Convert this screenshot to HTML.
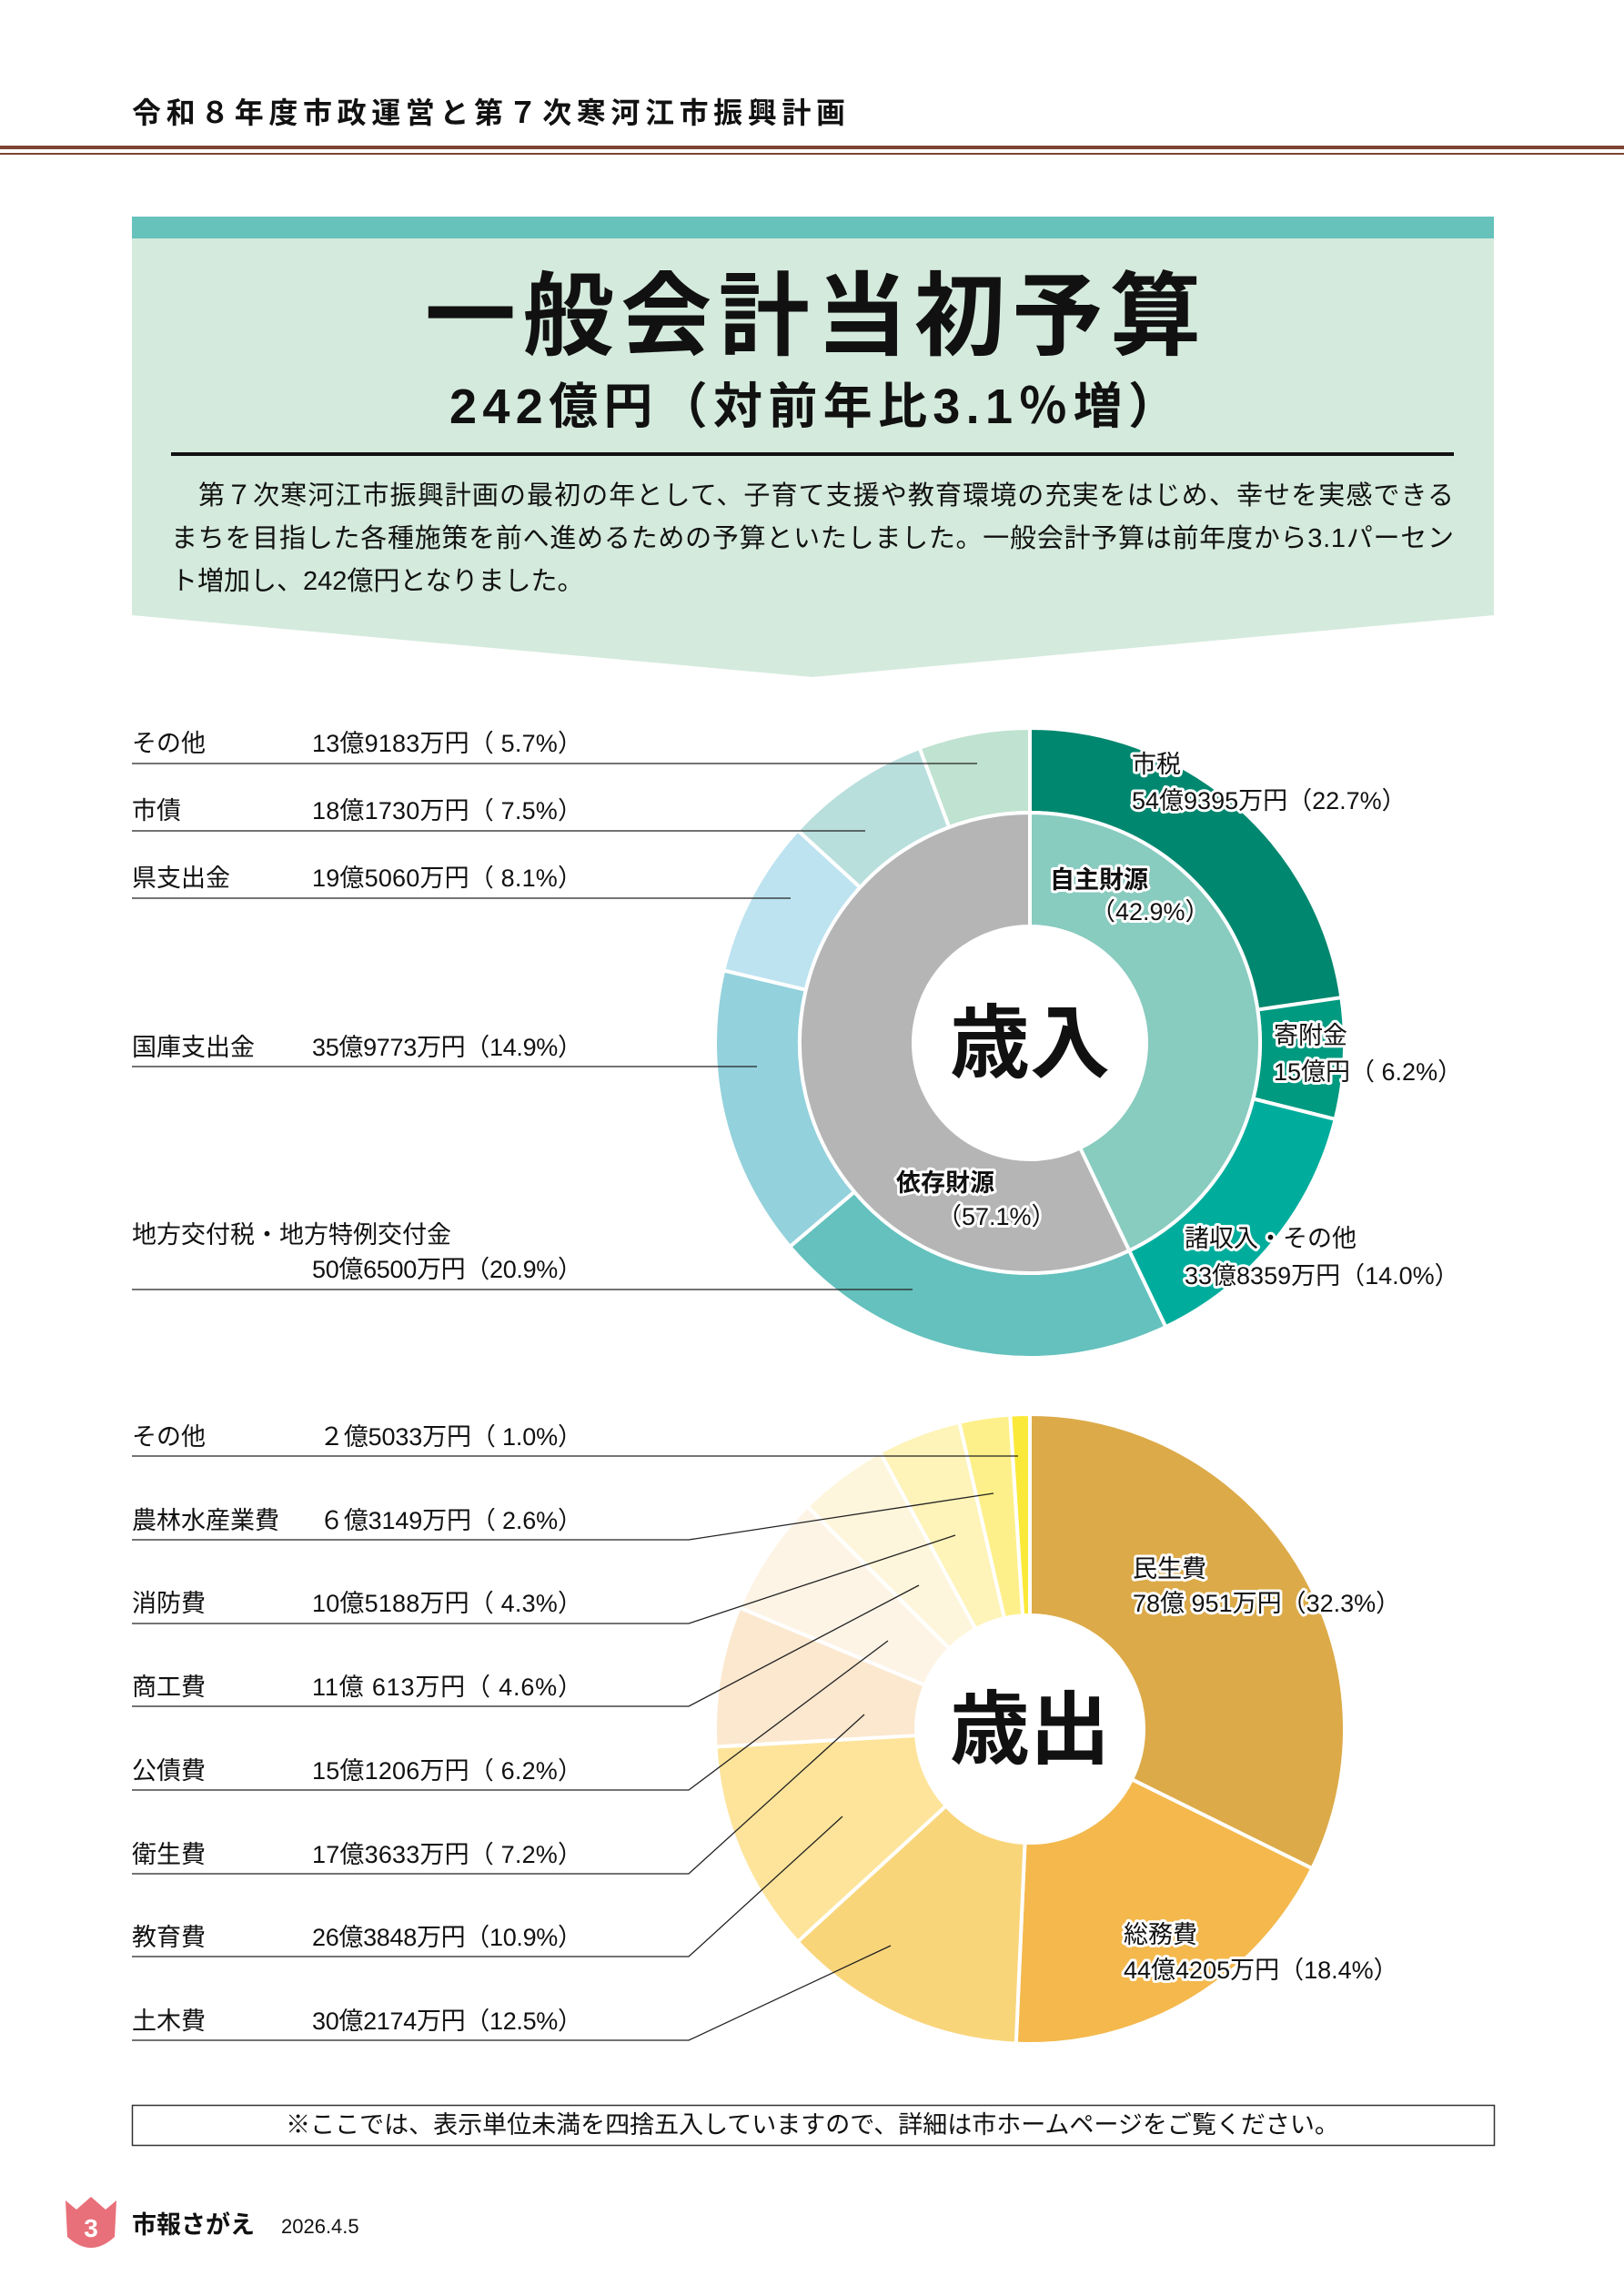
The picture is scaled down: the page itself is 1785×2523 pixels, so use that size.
<!DOCTYPE html>
<html><head><meta charset="utf-8"><style>
html,body{margin:0;padding:0;background:#fff}
svg{display:block}
text{font-family:"Liberation Sans","Noto Sans CJK JP",sans-serif;fill:#111}
.b{font-weight:bold}
.g{paint-order:stroke;stroke:#fff;stroke-width:6px;stroke-linejoin:round}
</style></head><body>
<svg id="s" width="1785" height="2523" viewBox="0 0 1785 2523" xmlns="http://www.w3.org/2000/svg">
<text x="145" y="135" font-size="32" class="b" textLength="784">令和８年度市政運営と第７次寒河江市振興計画</text>
<rect x="0" y="160" width="1785" height="4" fill="#7e4535"/>
<rect x="0" y="168" width="1785" height="2" fill="#7e4535"/>
<rect x="145" y="238" width="1497" height="24" fill="#66c2bb"/>
<polygon points="145,262 1642,262 1642,676 893,744 145,676" fill="#d4eadd"/>
<text x="467" y="382" font-size="100" class="b" textLength="853">一般会計当初予算</text>
<text x="494" y="465" font-size="54" class="b" textLength="800">242億円（対前年比3.1％増）</text>
<rect x="188" y="497" width="1410" height="4" fill="#111"/>
<text x="218" y="554" font-size="29" textLength="1380">第７次寒河江市振興計画の最初の年として、子育て支援や教育環境の充実をはじめ、幸せを実感できる</text>
<text x="188" y="601" font-size="29" textLength="1410">まちを目指した各種施策を前へ進めるための予算といたしました。一般会計予算は前年度から3.1パーセン</text>
<text x="188" y="648" font-size="29">ト増加し、242億円となりました。</text>
<g id="charts"></g>
<g id="labels" font-size="27"></g>
<rect x="145.5" y="2313.5" width="1497" height="44" fill="none" stroke="#333" stroke-width="1.5"/>
<text x="893" y="2344" font-size="27" text-anchor="middle">※ここでは、表示単位未満を四捨五入していますので、詳細は市ホームページをご覧ください。</text>
<path d="M72,2418 L84,2428 L100,2414 L116,2428 L128,2418 L126,2458 Q100,2482 74,2458 Z" fill="#e8707a"/>
<text x="100" y="2458" font-size="28" class="b" text-anchor="middle" style="fill:#fff">3</text>
<text x="145" y="2454" font-size="27" class="b">市報さがえ</text>
<text x="309" y="2454" font-size="22">2026.4.5</text>
</svg>
<script>
var NS="http://www.w3.org/2000/svg",C=document.getElementById('charts'),L=document.getElementById('labels');
function el(t,a,p,txt){var e=document.createElementNS(NS,t);for(var k in a)e.setAttribute(k,a[k]);if(txt)e.textContent=txt;(p||C).appendChild(e);return e}
function pt(cx,cy,r,f){var a=f*2*Math.PI;return [cx+r*Math.sin(a),cy-r*Math.cos(a)]}
function seg(cx,cy,r0,r1,f0,f1,col){var a=pt(cx,cy,r1,f0),b=pt(cx,cy,r1,f1),c=pt(cx,cy,r0,f1),d=pt(cx,cy,r0,f0),l=(f1-f0)>0.5?1:0;
el('path',{d:'M'+a+' A'+r1+','+r1+' 0 '+l+' 1 '+b+' L'+c+' A'+r0+','+r0+' 0 '+l+' 0 '+d+' Z',fill:col,stroke:'#fff','stroke-width':4,'stroke-linejoin':'round'})}
function donut(cx,cy,r0,r1,data){var s=0;data.forEach(function(d){var t=s+d[0]/100;seg(cx,cy,r0,r1,s,t,d[1]);s=t})}
donut(1132,1146,253,346,[[22.7,'#00876f'],[6.2,'#009a80'],[14.0,'#00ad9c'],[20.9,'#64c1bd'],[14.9,'#93d1dc'],[8.1,'#bde3f0'],[7.5,'#b9dfdd'],[5.7,'#c0e2d0']]);
donut(1132,1146,128,253,[[42.9,'#88cbbf'],[57.1,'#b4b5b4']]);
donut(1132,1900,125,346,[[32.3,'#dcaa48'],[18.4,'#f4b84c'],[12.5,'#f9d57a'],[10.9,'#fde49a'],[7.2,'#fbe8cf'],[6.2,'#fdf4e6'],[4.6,'#fef6dc'],[4.3,'#fef3b8'],[2.6,'#fdf08a'],[1.0,'#fbe93a']]);
el('text',{x:1132,y:1177,'font-size':88,'class':'b','text-anchor':'middle'},C,'歳入');
el('text',{x:1132,y:1931,'font-size':88,'class':'b','text-anchor':'middle'},C,'歳出');
function t(x,y,s,o){var a={x:x,y:y};for(var k in o)a[k]=o[k];return el('text',a,L,s)}
function ln(pts){el('polyline',{points:pts,fill:'none',stroke:'#222','stroke-width':1.3},L)}
[['その他','13億9183万円（ 5.7%）',826,839,1074],['市債','18億1730万円（ 7.5%）',900,913,951],['県支出金','19億5060万円（ 8.1%）',974,987,869],['国庫支出金','35億9773万円（14.9%）',1160,1172,832]].forEach(function(r){
t(145,r[2],r[0]);t(343,r[2],r[1],{textLength:297});ln('145,'+r[3]+' '+r[4]+','+r[3])});
t(145,1366,'地方交付税・地方特例交付金');t(343,1404,'50億6500万円（20.9%）',{textLength:297});ln('145,1417 1003,1417');
t(1244,849,'市税',{'class':'g'});t(1244,889,'54億9395万円（22.7%）',{'class':'g'});
t(1400,1147,'寄附金',{'class':'g'});t(1400,1187,'15億円（ 6.2%）',{'class':'g'});
t(1302,1370,'諸収入・その他',{'class':'g'});t(1302,1411,'33億8359万円（14.0%）',{'class':'g'});
t(1154,976,'自主財源',{'class':'b g'});t(1199,1011,'（42.9%）',{'class':'g'});
t(985,1309,'依存財源',{'class':'b g'});t(1030,1346,'（57.1%）',{'class':'g'});
t(145,1588,'その他');t(351,1588,'２億5033万円（ 1.0%）',{textLength:289});ln('145,1600 1119,1600');
[['農林水産業費','６億3149万円（ 2.6%）',1680,1692,'1092,1641',351],['消防費','10億5188万円（ 4.3%）',1771,1784,'1050,1687',343],['商工費','11億  613万円（ 4.6%）',1863,1875,'1010,1742',343],['公債費','15億1206万円（ 6.2%）',1955,1967,'976,1803',343],['衛生費','17億3633万円（ 7.2%）',2047,2059,'950,1884',343],['教育費','26億3848万円（10.9%）',2138,2150,'926,1996',343],['土木費','30億2174万円（12.5%）',2230,2242,'979,2138',343]].forEach(function(r){
t(145,r[2],r[0]);t(r[5],r[2],r[1],{textLength:640-r[5]});ln('145,'+r[3]+' 757,'+r[3]+' '+r[4])});
t(1245,1733,'民生費',{'class':'g'});t(1245,1771,'78億  951万円（32.3%）',{'class':'g'});
t(1235,2135,'総務費',{'class':'g'});t(1235,2174,'44億4205万円（18.4%）',{'class':'g'});
</script>
</body></html>
